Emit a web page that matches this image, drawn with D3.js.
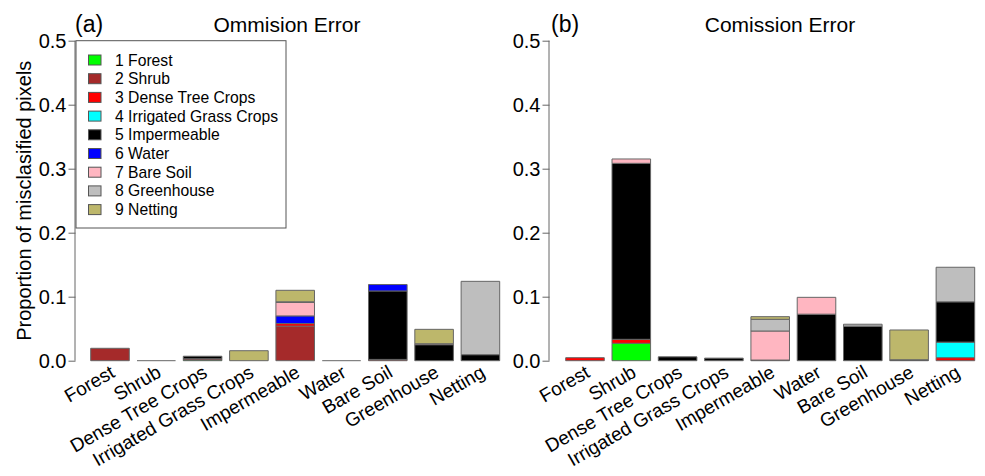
<!DOCTYPE html>
<html><head><meta charset="utf-8">
<script src="https://cdn.jsdelivr.net/npm/d3@7"></script>
<style>
body{margin:0;background:#fff;}
text{font-family:"Liberation Sans",Arial,Helvetica,sans-serif;fill:#000;}
</style></head>
<body>
<script>
const categories = ["Forest","Shrub","Dense Tree Crops","Irrigated Grass Crops","Impermeable","Water","Bare Soil","Greenhouse","Netting"];
const legendLabels = ["1 Forest","2 Shrub","3 Dense Tree Crops","4 Irrigated Grass Crops","5 Impermeable","6 Water","7 Bare Soil","8 Greenhouse","9 Netting"];
const classColors = ["#00ff00","#a52a2a","#ff0000","#00ffff","#000000","#0000ff","#ffb6c1","#bebebe","#bdb76b"];
const yTicks = [0,0.1,0.2,0.3,0.4,0.5];
const yTickLabels = ["0.0","0.1","0.2","0.3","0.4","0.5"];
const panelTitles = ["Ommision Error","Comission Error"];
const panelTags = ["(a)","(b)"];
const yLabel = "Proportion of misclasified pixels";
// rows = category (bar), columns = class 1..9 (stack segment)
const omission = [
  [0,0.0194,0,0,0,0,0,0,0],
  [0,0,0,0,0,0,0,0,0],
  [0.0012,0.0018,0,0,0.004,0,0,0,0],
  [0,0,0,0,0,0,0,0,0.0156],
  [0,0.054,0.004,0,0,0.012,0.021,0.001,0.018],
  [0,0,0,0,0,0,0,0,0],
  [0,0.002,0,0,0.107,0.01,0,0,0],
  [0,0,0,0,0.025,0,0.0015,0,0.0225],
  [0,0,0,0,0.0094,0,0,0.1146,0]
];
const commission = [
  [0,0,0.0047,0,0,0,0,0,0],
  [0.0272,0,0.0062,0,0.275,0,0.0068,0,0],
  [0,0,0,0,0.006,0,0,0,0],
  [0,0,0,0,0.004,0,0,0,0],
  [0,0.001,0,0,0,0,0.0454,0.0183,0.0041],
  [0,0,0,0,0.0727,0,0.0263,0,0],
  [0,0,0,0,0.054,0,0,0.003,0],
  [0,0,0,0,0.0015,0,0,0,0.0465],
  [0,0,0.0047,0.0243,0.063,0,0,0.054,0]
];

const W=985,H=476;
const svg=d3.select("body").append("svg").attr("width",W).attr("height",H);
const y=d3.scaleLinear().domain([0,0.5]).range([360.7,40.7]);

const panels=[
  {data:omission, axisX:75.5, barL:90.7, titleX:287, tagX:75},
  {data:commission, axisX:549.5, barL:565.7, titleX:780, tagX:551}
];

panels.forEach((p,pi)=>{
  const g=svg.append("g");
  const x=d3.scaleBand().domain(categories)
    .range([p.barL, p.barL+8*46.3+38.6]).paddingInner(1/6).paddingOuter(0);
  const ax=g.append("g").attr("transform",`translate(${p.axisX},0)`)
    .call(d3.axisLeft(y).tickValues(yTicks).tickFormat((d,i)=>yTickLabels[i]).tickSize(7).tickPadding(2));
  ax.select(".domain").attr("stroke","#666").attr("d",`M-0.5,${y(0)}V${y(0.5)}`);
  ax.selectAll(".tick line").attr("stroke","#666");
  ax.selectAll(".tick text").attr("font-size",20).attr("font-family","Liberation Sans, Arial, sans-serif").attr("fill","#000").attr("dy","0.36em");
  p.data.forEach((row,ci)=>{
    let cum=0;
    const x0=x(categories[ci]), x1=x0+x.bandwidth();
    const total=d3.sum(row);
    if(total===0){
      g.append("path").attr("d",`M${x0},${y(0)}H${x1}`).attr("stroke","#666").attr("stroke-width",1).attr("fill","none");
    }
    row.forEach((v,k)=>{
      const b=cum, t=cum+v; cum=t;
      if(v<=0) return;
      g.append("path")
        .attr("d",`M${x0},${y(b)}H${x1}V${y(t)}H${x0}Z`)
        .attr("fill",classColors[k]).attr("stroke","#666").attr("stroke-width",1);
    });
    const cx=x0+x.bandwidth()/2;
    g.append("text").attr("transform",`translate(${cx+6},376) rotate(-30)`)
      .attr("text-anchor","end").attr("font-size",19).text(categories[ci]);
  });
  g.append("text").attr("x",p.titleX).attr("y",32).attr("text-anchor","middle").attr("font-size",21).text(panelTitles[pi]);
  g.append("text").attr("x",p.tagX).attr("y",32).attr("font-size",23).text(panelTags[pi]);
});

svg.append("text").attr("transform",`translate(31,${y(0.25)}) rotate(-90)`)
  .attr("text-anchor","middle").attr("font-size",20).text(yLabel);

const lg=svg.append("g");
lg.append("rect").attr("x",76).attr("y",40.7).attr("width",210).attr("height",187.3)
  .attr("fill","#fff").attr("stroke","#555").attr("stroke-width",1);
legendLabels.forEach((l,i)=>{
  const cy=60+i*18.7;
  lg.append("rect").attr("x",88.5).attr("y",cy-5).attr("width",12.5).attr("height",10)
    .attr("fill",classColors[i]).attr("stroke","#555").attr("stroke-width",1);
  lg.append("text").attr("x",115).attr("y",cy+5.5).attr("font-size",15.7).text(l);
});
</script>
</body></html>
